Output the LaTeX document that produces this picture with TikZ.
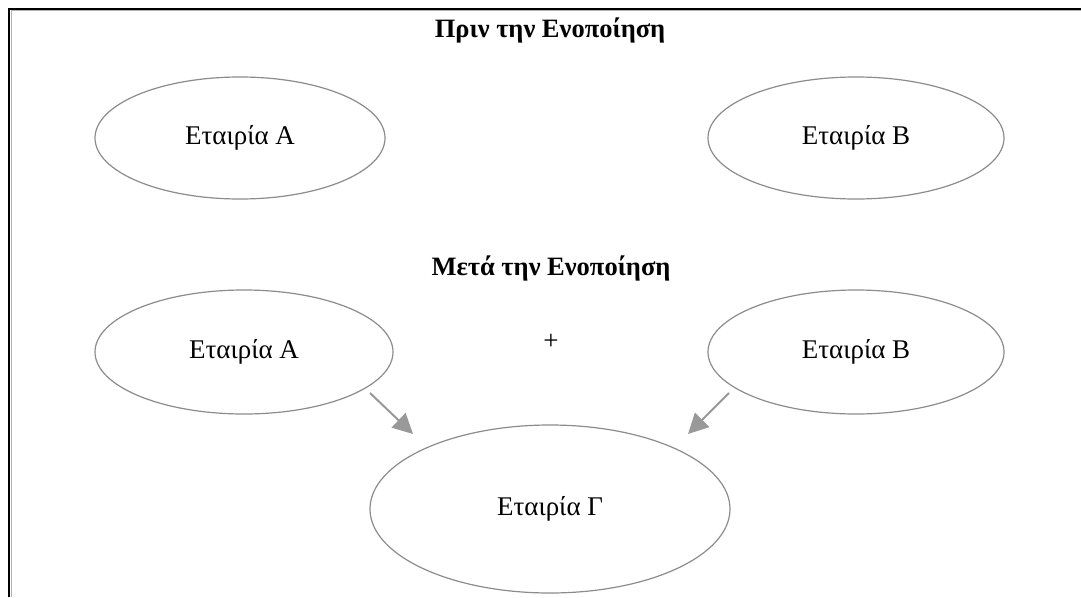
\documentclass[tikz,border=0pt]{standalone}
\usepackage{fontspec}
\setmainfont{Liberation Serif}
\usetikzlibrary{shapes.geometric,arrows.meta}
\definecolor{ell}{gray}{0.55}
\definecolor{arr}{gray}{0.6}
\begin{document}
\begin{tikzpicture}[x=1pt,y=-1pt,
  firm/.style={ellipse,draw=ell,line width=1.2pt,inner sep=0pt,font=\fontsize{27}{30}\selectfont},
  heading/.style={font=\bfseries\fontsize{26.5}{30}\selectfont,inner sep=0pt},
  merge/.style={draw=arr,line width=2pt,-{Triangle[length=20pt,width=20pt]}}]
\useasboundingbox (0,0) rectangle (1081,597);
\fill[white] (0,0) rectangle (1081,597);
% frame
\draw[black,line width=2pt] (9,597) -- (9,9) -- (1081,9);
\draw[gray!60,line width=1pt] (11.5,597) -- (11.5,10.5) -- (1081,10.5);
% titles
\node[heading] (t1) at (550,30) {Πριν την Ενοποίηση};
\node[heading] (t2) at (551,268) {Μετά την Ενοποίηση};
% before
\node[firm,minimum width=290pt,minimum height=122pt] (a1) at (240,138) {Εταιρία Α};
\node[firm,minimum width=296pt,minimum height=122pt] (b1) at (856,138) {Εταιρία Β};
% after
\node[firm,minimum width=298pt,minimum height=124pt] (a2) at (244,352) {Εταιρία Α};
\node[firm,minimum width=296pt,minimum height=124pt] (b2) at (856,352) {Εταιρία Β};
\node[font=\fontsize{27}{30}\selectfont,inner sep=0pt] (plus) at (551,342) {+};
\node[firm,minimum width=360pt,minimum height=168pt] (g) at (550,509) {Εταιρία Γ};
% connectors
\path (a2.center) ++(126,41) coordinate (a2o);
\path (b2.center) ++(-127,41) coordinate (b2o);
\path (g.center) ++(-137,-75) coordinate (gl);
\path (g.center) ++(138,-75) coordinate (gr);
\draw[merge] (a2o) -- (gl);
\draw[merge] (b2o) -- (gr);
\end{tikzpicture}
\end{document}
